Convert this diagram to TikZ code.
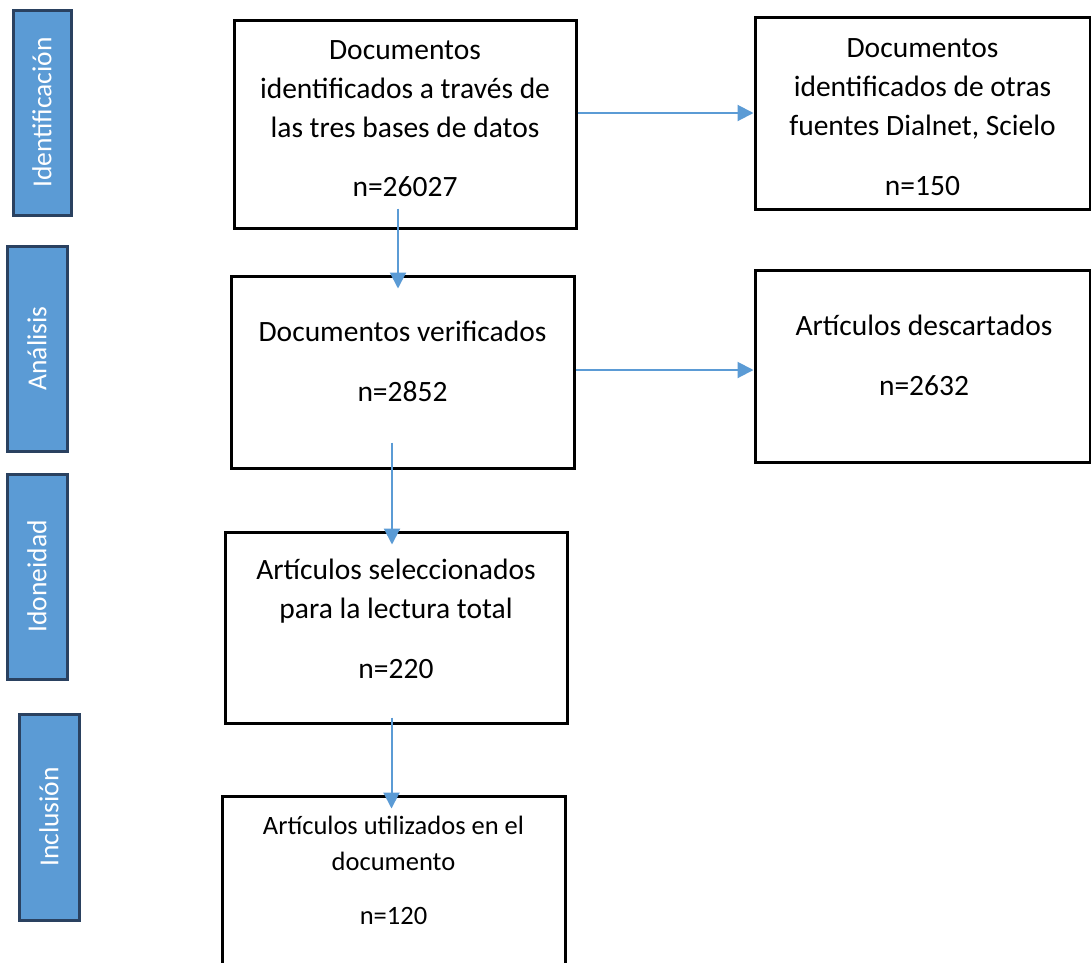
\documentclass[tikz,border=0pt]{standalone}
\usepackage{fontspec}
\setmainfont{Carlito}
\usetikzlibrary{arrows.meta}
\definecolor{sideblue}{HTML}{5B9BD5}
\definecolor{sideedge}{HTML}{2A4160}
\definecolor{arrblue}{HTML}{5B9BD5}
\begin{document}
\begin{tikzpicture}[x=1pt,y=-1pt,
  box/.style={draw=black,line width=3pt,rectangle,inner sep=0pt},
  side/.style={draw=sideedge,fill=sideblue,line width=3pt,inner sep=0pt,rotate=90,
    text=white,font=\fontsize{27.5}{33}\selectfont},
  txt/.style={anchor=base,font=\fontsize{29.5}{35}\selectfont,inner sep=0pt},
  small/.style={anchor=base,font=\fontsize{26.5}{31}\selectfont,inner sep=0pt},
  arr/.style={draw=arrblue,line width=2pt,-{Triangle[length=16pt,width=16pt]}}]
\useasboundingbox (0,0) rectangle (1091,962);
\clip (0,0) rectangle (1091,962);
\fill[white] (0,0) rectangle (1091,962);

% side labels
\node[side,minimum width=205pt,minimum height=58pt] (S1) at (42,112.5) {Identificación};
\node[side,minimum width=205pt,minimum height=60pt] (S2) at (37,348.5) {Análisis};
\node[side,minimum width=205pt,minimum height=60pt] (S3) at (37,576.5) {Idoneidad};
\node[side,minimum width=206pt,minimum height=60pt] (S4) at (49,817) {Inclusión};

% boxes
\node[box,minimum width=342pt,minimum height=208pt] (A) at (405,124) {};
\node[box,minimum width=335pt,minimum height=192pt] (B) at (922.5,113) {};
\node[box,minimum width=343pt,minimum height=192pt] (C) at (402.5,372) {};
\node[box,minimum width=335pt,minimum height=192pt] (D) at (922.5,366) {};
\node[box,minimum width=342pt,minimum height=191pt] (E) at (396,627.5) {};
\node[box,minimum width=343pt,minimum height=194pt] (F) at (393.5,893) {};

% texts
\node[txt] (a1) at (405,59) {Documentos};
\node[txt] (a2) at (405,98) {identificados a través de};
\node[txt] (a3) at (405,137) {las tres bases de datos};
\node[txt] (a4) at (405,196) {n=26027};

\node[txt] (b1) at (922.5,57) {Documentos};
\node[txt] (b2) at (922.5,96) {identificados de otras};
\node[txt] (b3) at (922.5,135) {fuentes Dialnet, Scielo};
\node[txt] (b4) at (922.5,195) {n=150};

\node[txt] (c1) at (402.5,341) {Documentos verificados};
\node[txt] (c2) at (402.5,401) {n=2852};

\node[txt] (d1) at (924,335) {Artículos descartados};
\node[txt] (d2) at (924,395) {n=2632};

\node[txt] (e1) at (396,579) {Artículos seleccionados};
\node[txt] (e2) at (396,618) {para la lectura total};
\node[txt] (e3) at (396,678) {n=220};

\node[small] (f1) at (393.5,834) {Artículos utilizados en el};
\node[small] (f2) at (393.5,870) {documento};
\node[small] (f3) at (393.5,924) {n=120};

% connectors
\draw[arr] ([yshift=11pt]A.east) -- (B.west);
\draw[arr] ([yshift=2pt]C.east) -- ([yshift=-4pt]D.west);
\draw[arr] ([xshift=-7pt,yshift=21pt]A.south) -- ([xshift=-4.5pt,yshift=-14pt]C.north);
\draw[arr] ([xshift=-10.5pt,yshift=27pt]C.south) -- ([xshift=-4pt,yshift=-14pt]E.north);
\draw[arr] ([xshift=-4.5pt,yshift=7pt]E.south) -- ([xshift=-2pt,yshift=-14pt]F.north);
\end{tikzpicture}
\end{document}
